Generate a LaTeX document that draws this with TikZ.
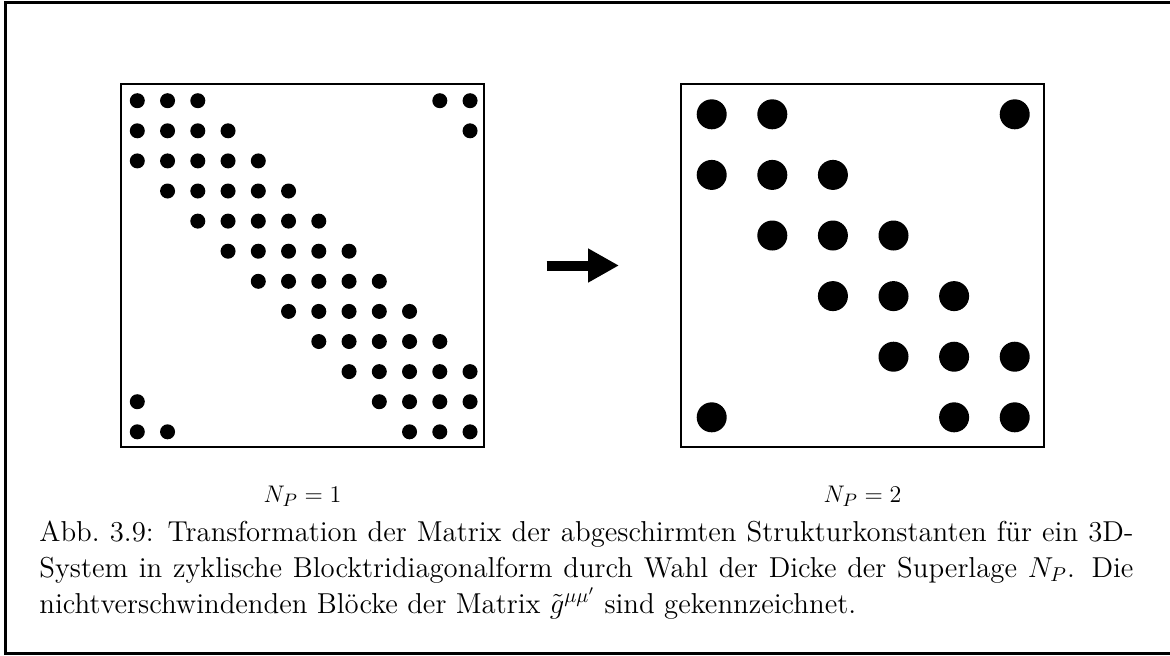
\documentclass[tikz,border=0pt]{standalone}
\usepackage{fontspec}
\usepackage{amsmath,amssymb}
\usetikzlibrary{positioning,arrows.meta}

\begin{document}
\begin{tikzpicture}[x=0.5pt, y=-0.5pt,
  every node/.style={font=\fontsize{14.4}{18}\selectfont},
  mat/.style={rectangle, draw, line width=1pt, minimum size=181.5pt, inner sep=0pt},
  smalldot/.style={fill=black},
  bigdot/.style={fill=black},
  nlabel/.style={anchor=base, font=\fontsize{13}{15}\selectfont},
  arr/.style={-{Triangle[length=15.5pt,width=16pt]}, line width=5pt,
              shorten <=30.75pt, shorten >=30.5pt}
]
  \useasboundingbox (0,0) rectangle (1170,655);

  % frame (open to the right)
  \draw[line width=1.5pt] (1175,2) -- (5.5,2) -- (5.5,653.5) -- (1175,653.5);

  % the two matrices
  \node[mat] (full) at (302.5,265.5) {};
  \node[mat] (block) at (862.5,265.5) {};

  % N_P = 1: cyclic band, 12x12
  \foreach \i in {0,...,11}
    \foreach \d in {-2,...,2} {
      \pgfmathtruncatemacro\j{mod(\i+\d+12,12)}
      \fill[smalldot] (137.3+30.25*\j, 100.7+30.1*\i) circle[radius=3.75pt];
    }

  % N_P = 2: cyclic block tridiagonal, 6x6
  \foreach \i in {0,...,5}
    \foreach \d in {-1,0,1} {
      \pgfmathtruncatemacro\j{mod(\i+\d+6,6)}
      \fill[bigdot] (711.7+60.6*\j, 114.3+60.6*\i) circle[radius=7.5pt];
    }

  \draw[arr] (full.east) -- (block.west);

  \node[nlabel] (np1) at (302.5,502) {$N_P = 1$};
  \node[nlabel] (np2) at (862.5,502) {$N_P = 2$};

  \node[anchor=base west, text width=547pt, align=justify, inner sep=0pt] (caption) at (39,541)
    {Abb.\ 3.9: Transformation der Matrix der abgeschirmten Strukturkonstanten f\"ur ein 3D-\linebreak
     System in zyklische Blocktridiagonalform durch Wahl der Dicke der Superlage $N_P$. Die\linebreak
     nichtverschwindenden Bl\"ocke der Matrix $\tilde g^{\mu\mu'}$ sind gekennzeichnet.};
\end{tikzpicture}
\end{document}
